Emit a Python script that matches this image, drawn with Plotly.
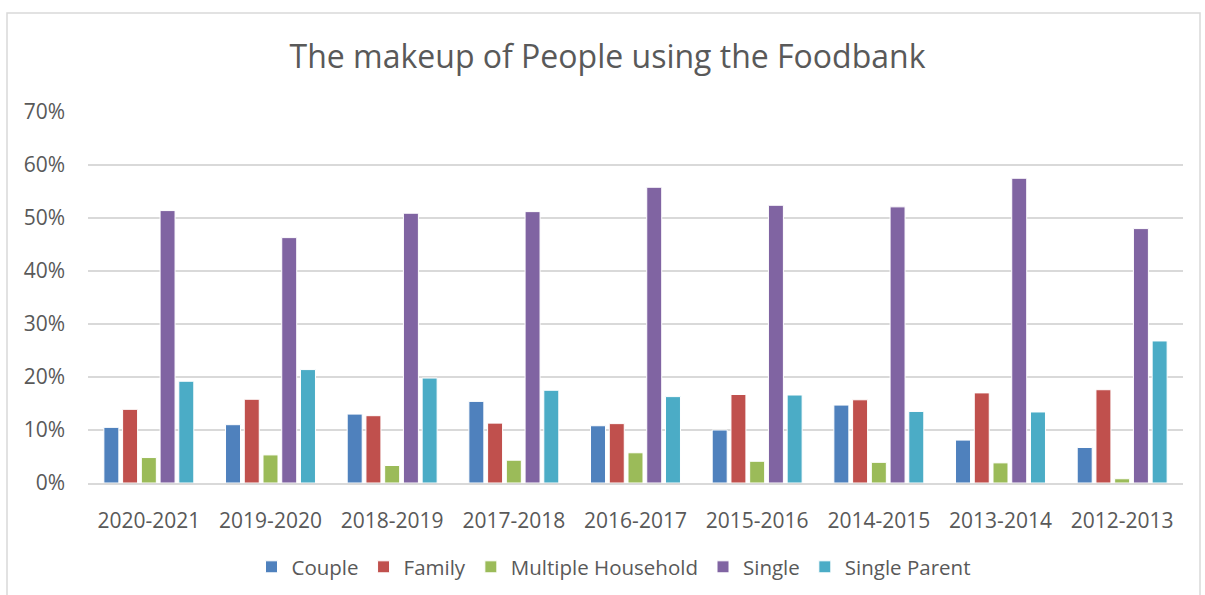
import plotly.graph_objects as go

years = ["2020-2021", "2019-2020", "2018-2019", "2017-2018", "2016-2017",
         "2015-2016", "2014-2015", "2013-2014", "2012-2013"]

couple = [0.105, 0.110, 0.130, 0.154, 0.108, 0.100, 0.147, 0.081, 0.067]
family = [0.139, 0.158, 0.127, 0.113, 0.112, 0.167, 0.157, 0.170, 0.176]
multiple_household = [0.048, 0.053, 0.033, 0.043, 0.057, 0.041, 0.039, 0.038, 0.008]
single = [0.514, 0.463, 0.509, 0.512, 0.558, 0.524, 0.521, 0.575, 0.480]
single_parent = [0.192, 0.214, 0.198, 0.175, 0.163, 0.166, 0.135, 0.134, 0.268]

series = [
    ("Couple", couple, "#4F81BD"),
    ("Family", family, "#C0504D"),
    ("Multiple Household", multiple_household, "#9BBB59"),
    ("Single", single, "#8064A2"),
    ("Single Parent", single_parent, "#4BACC6"),
]

W, H = 1205, 595
ML, MR, MT, MB = 88, 22, 112, 112
PW, PH = W - ML - MR, H - MT - MB

fig = go.Figure()
for name, vals, color in series:
    fig.add_trace(go.Bar(
        x=years, y=vals, name=name,
        marker=dict(color=color, line=dict(color="white", width=1)),
    ))

text_color = "#595959"
font = "Open Sans, Noto Sans, sans-serif"

# outer chart border (pixel positions converted to paper coordinates)
fig.add_shape(
    type="rect", xref="paper", yref="paper",
    x0=(7 - ML) / PW, x1=(1200 - ML) / PW,
    y0=(MT + PH - 600) / PH, y1=(MT + PH - 13) / PH,
    line=dict(color="#D9D9D9", width=1.5), fillcolor="rgba(0,0,0,0)", layer="below",
)

fig.update_layout(
    width=W, height=H,
    margin=dict(l=ML, r=MR, t=MT, b=MB, autoexpand=False),
    paper_bgcolor="white", plot_bgcolor="white",
    barmode="group", bargap=0.23, bargroupgap=0.2,
    title=dict(
        text="The makeup of People using the Foodbank",
        x=607.5 / W, xref="container", xanchor="center",
        y=1 - 57 / H, yanchor="middle",
        font=dict(family=font, size=32, color=text_color),
    ),
    font=dict(family=font, size=20, color=text_color),
    legend=dict(
        orientation="h", x=((254 + 973) / 2 - ML) / PW, xanchor="center", xref="paper",
        y=-(567 - (MT + PH)) / PH, yanchor="middle",
        font=dict(size=20.5, color=text_color),
        itemwidth=30, traceorder="normal", entrywidthmode="pixels",
    ),
    xaxis=dict(
        showgrid=False, showline=True, linecolor="#D9D9D9", linewidth=1.5,
        ticks="", ticklabelstandoff=18, tickangle=0, automargin=False,
        tickfont=dict(size=21, color=text_color),
    ),
    yaxis=dict(
        range=[0, 0.7], dtick=0.1, tickformat=".0%",
        showgrid=True, gridcolor="#D9D9D9", gridwidth=1.5,
        zeroline=False, showline=False, ticks="", automargin=False,
        ticklabelstandoff=22,
        tickfont=dict(size=21, color=text_color),
    ),
)

fig.write_html("out.html")
